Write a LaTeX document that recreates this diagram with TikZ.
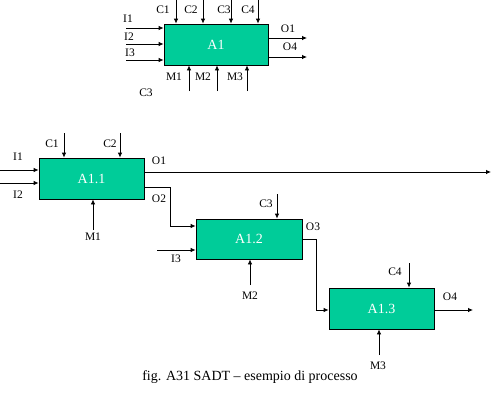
\documentclass[tikz,border=0pt]{standalone}
\usepackage{fontspec}
\setmainfont{Liberation Serif}
\usetikzlibrary{arrows.meta}
\definecolor{boxfill}{RGB}{0,204,153}
\begin{document}
\begin{tikzpicture}[x=1pt,y=-1pt,
  actbox/.style={draw=black, fill=boxfill, line width=0.8pt, inner sep=0pt, text=white, font=\fontsize{14}{16}\selectfont},
  arr/.style={-{Latex[length=5pt,width=4.5pt]}, line width=0.8pt},
  lbl/.style={font=\fontsize{11.5}{13}\selectfont, inner sep=0pt}]
\useasboundingbox (0,0) rectangle (491,408);

% ---------- top A1 ----------
\node[actbox, minimum width=104pt, minimum height=41pt] (A1) at (216,44.5) {A1};
\foreach \n/\x/\lx in {1/176/163,2/203/191,3/231/224,4/258/248}{
  \coordinate (tc\n) at (\x,0);
  \draw[arr] (tc\n) -- (tc\n |- A1.north);
  \node[lbl] (tcl\n) at (\lx,10) {C\n};
}
\foreach \n/\y/\lx/\ly in {1/28/128/19,2/44/129/37,3/60/130/53}{
  \coordinate (ti\n) at (126,\y);
  \draw[arr] (ti\n) -- (ti\n -| A1.west);
  \node[lbl] (til\n) at (\lx,\ly) {I\n};
}
\coordinate (to1) at (307,38);
\coordinate (to4) at (307,57);
\draw[arr] (to1 -| A1.east) -- (to1);
\draw[arr] (to4 -| A1.east) -- (to4);
\node[lbl] (tol1) at (288,29) {O1};
\node[lbl] (tol4) at (290,47) {O4};
\foreach \n/\x/\lx in {1/189/174,2/217/203,3/247/235}{
  \coordinate (tm\n) at (\x,91);
  \draw[arr] (tm\n) -- (tm\n |- A1.south);
  \node[lbl] (tml\n) at (\lx,77) {M\n};
}
\node[lbl] (tc3extra) at (146,93) {C3};

% ---------- A1.1 ----------
\node[actbox, minimum width=105pt, minimum height=41pt] (A11) at (91.5,178.5) {A1.1};
\coordinate (c1) at (64,133);
\coordinate (c2) at (120,133);
\draw[arr] (c1) -- (c1 |- A11.north);
\draw[arr] (c2) -- (c2 |- A11.north);
\node[lbl] (lc1) at (52,144) {C1};
\node[lbl] (lc2) at (110,144) {C2};
\coordinate (i1) at (0,170);
\coordinate (i2) at (0,183);
\draw[arr] (i1) -- (i1 -| A11.west);
\draw[arr] (i2) -- (i2 -| A11.west);
\node[lbl] (li1) at (18,157) {I1};
\node[lbl] (li2) at (18,195) {I2};
\coordinate (o1) at (491,172);
\draw[arr] (o1 -| A11.east) -- (o1);
\node[lbl] (lo1) at (159,161) {O1};
\coordinate (m1) at (93,230);
\draw[arr] (m1) -- (m1 |- A11.south);
\node[lbl] (lm1) at (93,237) {M1};

% ---------- A1.2 ----------
\node[actbox, minimum width=106pt, minimum height=40pt] (A12) at (249,239) {A1.2};
\coordinate (o2a) at (144,187);
\coordinate (o2b) at (170,226);
\draw[arr] (o2a -| A11.east) -| (o2b) -- (o2b -| A12.west);
\node[lbl] (lo2) at (159,199) {O2};
\coordinate (i3) at (157,250);
\draw[arr] (i3) -- (i3 -| A12.west);
\node[lbl] (li3) at (176,259) {I3};
\coordinate (c3) at (277,194);
\draw[arr] (c3) -- (c3 |- A12.north);
\node[lbl] (lc3) at (266,204) {C3};
\coordinate (m2) at (250,285);
\draw[arr] (m2) -- (m2 |- A12.south);
\node[lbl] (lm2) at (250,296) {M2};

% ---------- A1.3 ----------
\node[actbox, minimum width=105pt, minimum height=41pt] (A13) at (381.5,308.5) {A1.3};
\coordinate (o3a) at (302,239);
\coordinate (o3b) at (316,310);
\draw[arr] (o3a -| A12.east) -| (o3b) -- (o3b -| A13.west);
\node[lbl] (lo3) at (313,227) {O3};
\coordinate (c4) at (409,263);
\draw[arr] (c4) -- (c4 |- A13.north);
\node[lbl] (lc4) at (395,272) {C4};
\coordinate (o4) at (473,310);
\draw[arr] (o4 -| A13.east) -- (o4);
\node[lbl] (lo4) at (450,297) {O4};
\coordinate (m3) at (379,355);
\draw[arr] (m3) -- (m3 |- A13.south);
\node[lbl] (lm3) at (378,366) {M3};

% ---------- caption ----------
\node[font=\fontsize{14}{16}\selectfont, inner sep=0pt] (cap) at (250,377) {fig. A31 SADT – esempio di processo};
\end{tikzpicture}
\end{document}
